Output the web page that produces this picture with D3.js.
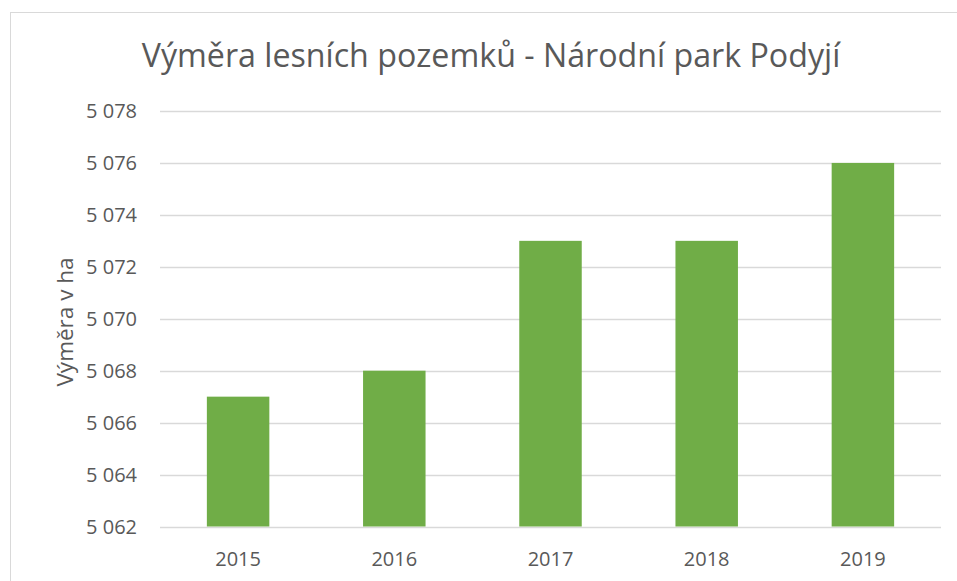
<!DOCTYPE html>
<html>
<head>
<meta charset="utf-8">
<script src="https://cdn.jsdelivr.net/npm/d3@7"></script>
<style>
    body { margin: 0; background: #fff; }
    svg { font-family: "Open Sans", sans-serif; }
</style>
</head>
<body>
<svg id="chart" width="957" height="581"></svg>
<script>
// data
const years = ['2015', '2016', '2017', '2018', '2019'];
const areas = [5067, 5068, 5073, 5073, 5076];
const yTicks = [5062, 5064, 5066, 5068, 5070, 5072, 5074, 5076, 5078];

const svg = d3.select('#chart');
const margin = {left: 160, right: 16, top: 111, bottom: 54.5};
const width = 957, height = 581;

// outer chart border
svg.append('rect')
    .attr('x', 10.5).attr('y', 12.5)
    .attr('width', 960).attr('height', 600)
    .attr('fill', 'none')
    .attr('stroke', '#d9d9d9');

const x = d3.scaleBand()
    .domain(years)
    .range([margin.left, width - margin.right])
    .paddingInner(0.6)
    .paddingOuter(0.3);

const y = d3.scaleLinear()
    .domain([5062, 5078])
    .range([height - margin.bottom, margin.top]);

const fmt = d3.formatLocale({decimal: ',', thousands: ' ', grouping: [3], currency: ['', ' Kč']}).format(',d');

// gridlines
svg.append('g')
    .selectAll('line')
    .data(yTicks)
    .join('line')
    .attr('x1', margin.left)
    .attr('x2', width - margin.right)
    .attr('y1', d => Math.round(y(d)) + 0.5)
    .attr('y2', d => Math.round(y(d)) + 0.5)
    .attr('stroke', '#d9d9d9')
    .attr('stroke-width', 1.3);

// bars
svg.append('g')
    .selectAll('rect')
    .data(years)
    .join('rect')
    .attr('x', (d, i) => x(d))
    .attr('width', x.bandwidth())
    .attr('y', (d, i) => y(areas[i]))
    .attr('height', (d, i) => y(5062) - y(areas[i]))
    .attr('fill', '#70ad47');

// y tick labels
svg.append('g')
    .selectAll('text')
    .data(yTicks)
    .join('text')
    .attr('x', 137)
    .attr('y', d => y(d))
    .attr('dy', '0.35em')
    .attr('text-anchor', 'end')
    .attr('font-size', 20)
    .attr('fill', '#595959')
    .text(d => fmt(d));

// x labels
svg.append('g')
    .selectAll('text')
    .data(years)
    .join('text')
    .attr('x', d => x(d) + x.bandwidth() / 2)
    .attr('y', 566)
    .attr('text-anchor', 'middle')
    .attr('font-size', 20)
    .attr('fill', '#595959')
    .text(d => d);

// y axis title
svg.append('text')
    .attr('transform', 'translate(73,322) rotate(-90)')
    .attr('text-anchor', 'middle')
    .attr('font-size', 22.5)
    .attr('fill', '#595959')
    .text('Výměra v ha');

// chart title
svg.append('text')
    .attr('x', 491)
    .attr('y', 67)
    .attr('text-anchor', 'middle')
    .attr('font-size', 32.2)
    .attr('fill', '#595959')
    .text('Výměra lesních pozemků - Národní park Podyjí');
</script>
</body>
</html>
